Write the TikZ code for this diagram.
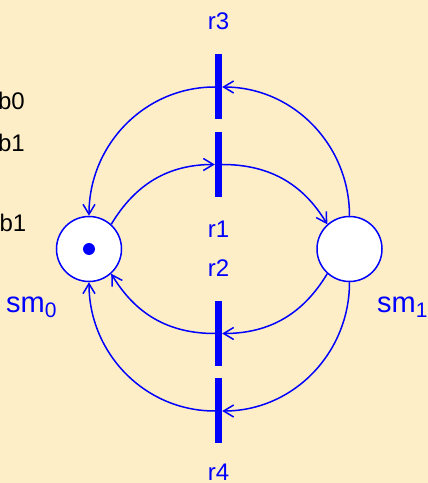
\documentclass[tikz,border=0pt]{standalone}
\usepackage{fontspec}
\setmainfont{Liberation Sans}
\usetikzlibrary{arrows.meta}
\definecolor{bg}{RGB}{253,238,200}
\definecolor{pn}{RGB}{0,0,255}
\begin{document}
\begin{tikzpicture}[x=1pt,y=1pt,
  place/.style={circle,draw=pn,line width=1.5pt,fill=white,minimum size=65pt,inner sep=0pt},
  trans/.style={rectangle,fill=pn,minimum width=7pt,minimum height=65pt,inner sep=0pt},
  tokendot/.style={circle,fill=pn,minimum size=12pt,inner sep=0pt},
  conn/.style={draw=pn,line width=1.5pt,-{Straight Barb[length=10pt,width=12pt,line width=1.5pt]}},
  lab/.style={text=pn,font=\fontsize{24}{28}\selectfont,inner sep=0pt,anchor=base},
  smlab/.style={text=pn,font=\fontsize{29}{34}\selectfont,inner sep=0pt,anchor=base west},
  side/.style={text=black,font=\fontsize{24}{28}\selectfont,inner sep=0pt,anchor=base east}]
\fill[bg] (0,0) rectangle (428,483);
\useasboundingbox (0,0) rectangle (428,483);
% places
\node[place] (sm0) at (89,234) {};
\node[place] (sm1) at (349.5,234) {};
\node[tokendot] (tok) at (sm0.center) {};
% transitions
\node[trans] (r3) at (218.5,396) {};
\node[trans] (r1) at (218.5,318.5) {};
\node[trans] (r2) at (218.5,149.5) {};
\node[trans] (r4) at (218.5,72) {};
% labels
\node[lab] (lr3) at (218.5,453) {r3};
\node[lab] (lr1) at (218.5,245) {r1};
\node[lab] (lr2) at (218.5,206) {r2};
\node[lab] (lr4) at (218.5,2) {r4};
\node[smlab] (lsm0) at (6,170) {sm\raisebox{-5pt}{\fontsize{21}{21}\selectfont 0}};
\node[smlab] (lsm1) at (377,170) {sm\raisebox{-5pt}{\fontsize{21}{21}\selectfont 1}};
\node[side] (tb0) at (25,373) {b0};
\node[side] (tb1) at (25,331) {b1};
\node[side] (tb2) at (26.5,251) {b1};
% arcs
\draw[conn] (sm0.48) to[out=59,in=180] (r1.west);
\draw[conn] (r1.east) to[out=0,in=121] (sm1.132);
\draw[conn] (sm1.north) to[out=90,in=0] (r3.east);
\draw[conn] (r3.west) to[out=180,in=90] (sm0.north);
\draw[conn] (sm1.228) to[out=-121,in=0] (r2.east);
\draw[conn] (r2.west) to[out=180,in=-59] (sm0.-48);
\draw[conn] (sm1.south) to[out=-90,in=0] (r4.east);
\draw[conn] (r4.west) to[out=180,in=-90] (sm0.south);
\end{tikzpicture}
\end{document}
